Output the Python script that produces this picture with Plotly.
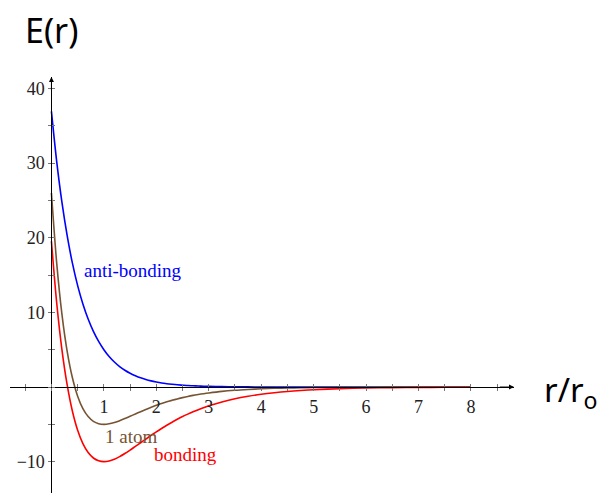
import plotly.graph_objects as go

# ---- data ----
r_vals = [0.0, 0.1, 0.2, 0.3, 0.4, 0.5, 0.6, 0.7, 0.8, 0.9,
          1.0, 1.1, 1.2, 1.3, 1.4, 1.5, 1.6, 1.7, 1.8, 1.9,
          2.0, 2.1, 2.2, 2.3, 2.4, 2.5, 2.6, 2.7, 2.8, 2.9,
          3.0, 3.25, 3.5, 3.75, 4.0, 4.25, 4.5, 4.75, 5.0,
          5.5, 6.0, 6.5, 7.0, 7.5, 8.0]
e_anti = [36.95, 30.25, 24.77, 20.28, 16.60, 13.59, 11.13, 9.11, 7.46, 6.11,
          5.00, 4.09, 3.35, 2.74, 2.25, 1.84, 1.51, 1.23, 1.01, 0.83,
          0.68, 0.55, 0.45, 0.37, 0.30, 0.25, 0.20, 0.17, 0.14, 0.11,
          0.09, 0.06, 0.03, 0.02, 0.01, 0.01, 0.00, 0.00, 0.00,
          0.00, 0.00, 0.00, 0.00, 0.00, 0.00]
e_bond = [19.53, 11.30, 5.02, 0.28, -3.24, -5.79, -7.58, -8.78, -9.51, -9.89,
          -10.00, -9.91, -9.67, -9.33, -8.91, -8.45, -7.96, -7.47, -6.97, -6.48,
          -6.00, -5.55, -5.12, -4.71, -4.32, -3.96, -3.63, -3.32, -3.03, -2.77,
          -2.52, -2.00, -1.57, -1.24, -0.97, -0.76, -0.59, -0.46, -0.36,
          -0.22, -0.13, -0.08, -0.05, -0.03, -0.02]
e_atom = [26.01, 16.64, 9.76, 4.78, 1.24, -1.23, -2.90, -3.96, -4.60, -4.91,
          -5.00, -4.93, -4.76, -4.51, -4.23, -3.92, -3.61, -3.30, -3.00, -2.72,
          -2.45, -2.21, -1.98, -1.78, -1.59, -1.42, -1.26, -1.12, -1.00, -0.89,
          -0.79, -0.58, -0.43, -0.32, -0.23, -0.17, -0.13, -0.09, -0.07,
          -0.04, -0.02, -0.01, -0.01, 0.00, 0.00]

x_ticks = [1, 2, 3, 4, 5, 6, 7, 8]
y_ticks = [-10, 10, 20, 30, 40]
series_names = ["anti-bonding", "1 atom", "bonding"]

# ---- style ----
BLUE = "rgb(0,0,255)"
BROWN = "rgb(118,84,50)"
RED = "rgb(255,0,0)"
X_RANGE = [-0.79, 8.82]
Y_RANGE = [-14.2, 41.55]
SERIF = "Liberation Serif, DejaVu Serif, serif"
TICKFONT = dict(family=SERIF, size=18, color="#222")
SANS = "Noto Sans, DejaVu Sans, sans-serif"

x_pos = (0 - X_RANGE[0]) / (X_RANGE[1] - X_RANGE[0])
y_pos = (0 - Y_RANGE[0]) / (Y_RANGE[1] - Y_RANGE[0])

fig = go.Figure()
for name, vals, col in zip(series_names, [e_anti, e_atom, e_bond], [BLUE, BROWN, RED]):
    fig.add_trace(go.Scatter(x=r_vals, y=vals, mode="lines", name=name,
                             line=dict(color=col, width=1.6, shape="spline", smoothing=0.8),
                             cliponaxis=False, showlegend=False))
# dummy trace for overlay axes (inside half of the crossing ticks)
fig.add_trace(go.Scatter(x=[], y=[], xaxis="x2", yaxis="y2", showlegend=False))

axis_common = dict(showgrid=False, zeroline=False, showline=True, linecolor="black",
                   linewidth=1, tickcolor="#777", tickwidth=1, ticklen=3, automargin=False)

# The page body has an 8 px default margin; the plot area is placed so that it
# lands at window pixels x 10..514, y 77..493.
fig.update_layout(
    width=600, height=485,
    margin=dict(l=2, r=94, t=69, b=0, autoexpand=False),
    paper_bgcolor="white", plot_bgcolor="white",
    xaxis=dict(range=X_RANGE, anchor="free", position=y_pos,
               tickmode="array", tickvals=x_ticks, ticktext=[str(v) for v in x_ticks],
               ticks="outside", tickfont=TICKFONT,
               minor=dict(tick0=0, dtick=0.5, ticks="outside", ticklen=3, tickcolor="#777"),
               **axis_common),
    yaxis=dict(range=Y_RANGE, anchor="free", position=x_pos,
               tickmode="array", tickvals=y_ticks, ticktext=[str(v).replace("-", "\u2212") for v in y_ticks],
               ticks="outside", tickfont=TICKFONT,
               minor=dict(tick0=0, dtick=5, ticks="outside", ticklen=3, tickcolor="#777"),
               **axis_common),
    xaxis2=dict(range=X_RANGE, overlaying="x", anchor="free", position=y_pos,
                tickmode="array", tickvals=x_ticks, showticklabels=False, ticks="inside",
                minor=dict(tick0=0, dtick=0.5, ticks="inside", ticklen=3, tickcolor="#777"),
                **axis_common),
    yaxis2=dict(range=Y_RANGE, overlaying="y", anchor="free", position=x_pos,
                tickmode="array", tickvals=y_ticks, showticklabels=False, ticks="inside",
                minor=dict(tick0=0, dtick=5, ticks="inside", ticklen=3, tickcolor="#777"),
                **axis_common),
)

# arrowheads on axes
fig.add_annotation(x=X_RANGE[1], y=0, ax=X_RANGE[1] - 0.3, ay=0, axref="x", ayref="y",
                   xref="x", yref="y", text="", showarrow=True, arrowhead=2,
                   arrowsize=1, arrowwidth=1, arrowcolor="black", standoff=0)
fig.add_annotation(x=0, y=Y_RANGE[1], ax=0, ay=Y_RANGE[1] - 2, axref="x", ayref="y",
                   xref="x", yref="y", text="", showarrow=True, arrowhead=2,
                   arrowsize=1, arrowwidth=1, arrowcolor="black", standoff=0)

# curve labels
lab_font = dict(family=SERIF, size=19)
fig.add_annotation(x=1.56, y=15.6, text="anti-bonding", showarrow=False,
                   xanchor="center", yanchor="middle", font=dict(color=BLUE, **lab_font))
fig.add_annotation(x=1.52, y=-6.6, text="1 atom", showarrow=False,
                   xanchor="center", yanchor="middle", font=dict(color=BROWN, **lab_font))
fig.add_annotation(x=2.55, y=-9.1, text="bonding", showarrow=False,
                   xanchor="center", yanchor="middle", font=dict(color=RED, **lab_font))

# axis titles (paper coordinates: plot area spans 504 x 416 px, starting at window (10, 77))
fig.add_annotation(xref="paper", yref="paper", x=(51 - 10) / 504, y=(493 - 30) / 416,
                   xanchor="center", yanchor="middle",
                   text="E(r)", showarrow=False, font=dict(family=SANS, size=34, color="black"))
fig.add_annotation(xref="paper", yref="paper", x=(571 - 10) / 504, y=(493 - 391) / 416,
                   xanchor="center", yanchor="middle",
                   text="r/r<sub>o</sub>", showarrow=False,
                   font=dict(family=SANS, size=33, color="black"))

fig.write_html("out.html")
